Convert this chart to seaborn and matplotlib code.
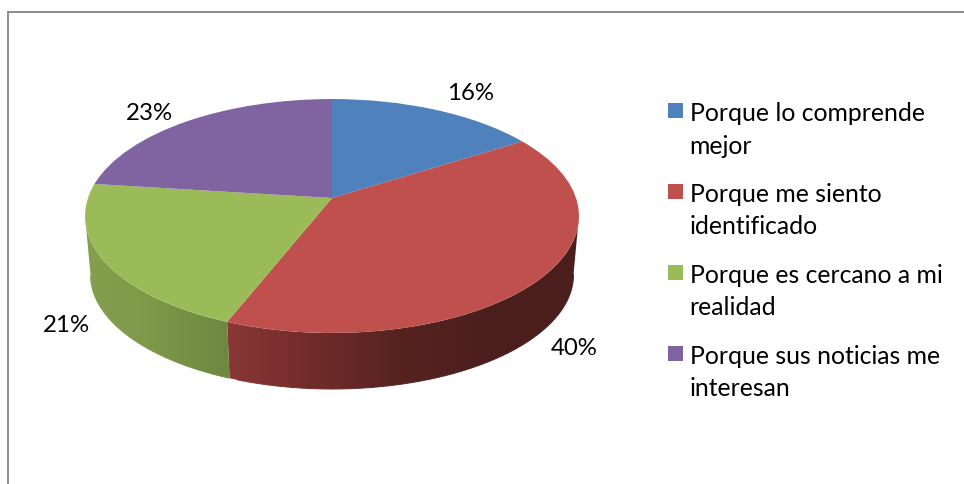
import numpy as np
import matplotlib
matplotlib.use("Agg")
import matplotlib.pyplot as plt
from matplotlib.colors import to_rgb
from matplotlib.legend_handler import HandlerPatch
from matplotlib.patches import Polygon, Rectangle
from matplotlib.transforms import Transform
import seaborn as sns

categories = ["Porque lo comprende\nmejor", "Porque me siento\nidentificado",
              "Porque es cercano a mi\nrealidad", "Porque sus noticias me\ninteresan"]
values = [16, 40, 21, 23]
pct_labels = ["16%", "40%", "21%", "23%"]
colors = ["#4F81BD", "#C0504D", "#9BBB59", "#8064A2"]
label_xy = [(471, 93), (574, 348), (66, 325), (149, 113)]

# side-wall shading stops (x position, colour) for the two visible walls
wall_shade = {1: [(225, "#8A3836"), (300, "#742D2B"), (400, "#562321"), (480, "#4C1F1E"), (580, "#4A1E1D")],
              2: [(85, "#84A04F"), (150, "#7E9949"), (225, "#6E883F")]}

sns.set_theme(style="white")
plt.rcParams["font.family"] = ["Lato", "DejaVu Sans"]

W, H = 964, 484
fig = plt.figure(figsize=(W / 100, H / 100), dpi=100)
ax = fig.add_axes([8 / W, 0, (W - 8) / W, (H - 12) / H])

APEX = (332.0, 198.0)
AX, BY, K = 244.0, 114.2, 0.1538
FLOOR_Y, FLOOR_S = 257.0, 0.978


def project(x, y, ax0=APEX[0], ay0=APEX[1], s=1.0):
    d = 1 + K * y
    return ax0 + s * AX * x / d, ay0 - s * BY * y / d


class Tilt(Transform):
    input_dims = output_dims = 2

    def transform_non_affine(self, v):
        v = np.asarray(v, float)
        return np.column_stack(project(v[:, 0], v[:, 1]))


fracs = np.array(values, float) / sum(values)
edges = np.concatenate([[0], np.cumsum(fracs)]) * 2 * np.pi
# the wall is only visible between the two silhouette angles of the tilted disc
vis_lo, vis_hi = np.arccos(-K), 2 * np.pi - np.arccos(-K)

# side walls: a horizontal colour ramp clipped to the wall outline
for idx, stops in wall_shade.items():
    th = np.linspace(max(edges[idx], vis_lo), min(edges[idx + 1], vis_hi), 200)
    x, y = np.sin(th), np.cos(th)
    X1, Y1 = project(x, y)
    X2, Y2 = project(x, y, APEX[0], FLOOR_Y, FLOOR_S)
    px, py = np.r_[X1, X2[::-1]], np.r_[Y1, Y2[::-1]]
    lo, hi = px.min(), px.max()
    xs = np.linspace(lo, hi, 300)
    sx = [p[0] for p in stops]
    rgb = np.array([to_rgb(p[1]) for p in stops])
    ramp = np.stack([np.interp(xs, sx, rgb[:, c]) for c in range(3)], axis=1)[None, :, :]
    poly = Polygon(np.column_stack([px, py]), closed=True, transform=ax.transData,
                   facecolor="none", edgecolor="none")
    ax.add_patch(poly)
    im = ax.imshow(ramp, extent=(lo, hi, py.max(), py.min()), aspect="auto", zorder=1,
                   interpolation="bilinear")
    im.set_clip_path(poly)
    # soft outer rim, coloured along the ramp, keeps the edge smooth
    for a, b in zip(np.arange(0, 199, 4), np.arange(4, 200, 4)):
        seg = slice(a, b + 1)
        c = [float(np.interp(X2[seg].mean(), sx, rgb[:, k])) for k in range(3)]
        ax.plot(X2[seg], Y2[seg], color=c, lw=0.7, zorder=1, solid_capstyle="butt")

# top surface
wedges, _ = ax.pie(values, colors=colors, startangle=90, counterclock=False, radius=1,
                   wedgeprops=dict(linewidth=0))
tilt = Tilt()
for w in wedges:
    w.set_transform(tilt + ax.transData)
    w.set_clip_on(False)
    w.set_zorder(2)

ax.set_aspect("auto")
ax.set_xlim(8, W)
ax.set_ylim(H, 12)
ax.set_frame_on(True)
for side, sp in ax.spines.items():
    sp.set_visible(side in ("left", "top"))
    sp.set_color("#8C8C8C")
    sp.set_linewidth(1.4)
ax.set_xticks([])
ax.set_yticks([])

FS = 17.8
for (x, y), s in zip(label_xy, pct_labels):
    ax.text(x, y, s, ha="center", va="center", fontsize=17.3, color="black", zorder=3)


class FirstLineSquare(HandlerPatch):
    def create_artists(self, legend, orig, xd, yd, width, height, fontsize, trans):
        p = Rectangle((width - 10.8, height / 2 - 5.4 + 14.4), 10.8, 10.8,
                      facecolor=orig.get_facecolor(), edgecolor="none", transform=trans)
        return [p]


leg = ax.legend(wedges, categories, loc="upper left", bbox_to_anchor=(658 / W, 1 - 102 / H),
                bbox_transform=fig.transFigure, frameon=False, fontsize=FS, borderpad=0, borderaxespad=0,
                labelspacing=1.03, handlelength=1.0, handletextpad=0.28,
                handler_map={w: FirstLineSquare() for w in wedges})
for t in leg.get_texts():
    t.set_linespacing(1.5)
    t.set_color("black")

fig.savefig("out.png", dpi=100, facecolor="white")
